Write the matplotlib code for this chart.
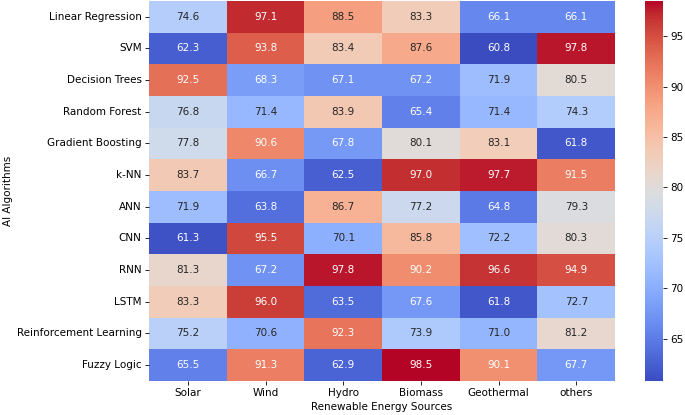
import numpy as np
import matplotlib
matplotlib.use("Agg")
import matplotlib.pyplot as plt
import seaborn as sns

algorithms = ["Linear Regression", "SVM", "Decision Trees", "Random Forest",
              "Gradient Boosting", "k-NN", "ANN", "CNN", "RNN", "LSTM",
              "Reinforcement Learning", "Fuzzy Logic"]
sources = ["Solar", "Wind", "Hydro", "Biomass", "Geothermal", "others"]

solar = [74.6, 62.3, 92.5, 76.8, 77.8, 83.7, 71.9, 61.3, 81.3, 83.3, 75.2, 65.5]
wind = [97.1, 93.8, 68.3, 71.4, 90.6, 66.7, 63.8, 95.5, 67.2, 96.0, 70.6, 91.3]
hydro = [88.5, 83.4, 67.1, 83.9, 67.8, 62.5, 86.7, 70.1, 97.8, 63.5, 92.3, 62.9]
biomass = [83.3, 87.6, 67.2, 65.4, 80.1, 97.0, 77.2, 85.8, 90.2, 67.6, 73.9, 98.5]
geothermal = [66.1, 60.8, 71.9, 71.4, 83.1, 97.7, 64.8, 72.2, 96.6, 61.8, 71.0, 90.1]
others = [66.1, 97.8, 80.5, 74.3, 61.8, 91.5, 79.3, 80.3, 94.9, 72.7, 81.2, 67.7]

data = np.array([solar, wind, hydro, biomass, geothermal, others]).T

# the reference looks like a 100 dpi figure shrunk to ~75%, so draw at 75 dpi
dpi = 75
fig = plt.figure(figsize=(685 / dpi, 415 / dpi), dpi=dpi)
ax = fig.add_axes([0.2175, 0.082, 0.6805, 0.916])
cax = fig.add_axes([0.9416, 0.082, 0.0265, 0.916])

sns.heatmap(data, annot=True, fmt=".1f", cmap="coolwarm",
            xticklabels=sources, yticklabels=algorithms,
            ax=ax, cbar_ax=cax)
ax.set_xlabel("Renewable Energy Sources")
ax.set_ylabel("AI Algorithms")
ax.tick_params(axis="y", rotation=0)

fig.savefig("out.png", dpi=dpi)
